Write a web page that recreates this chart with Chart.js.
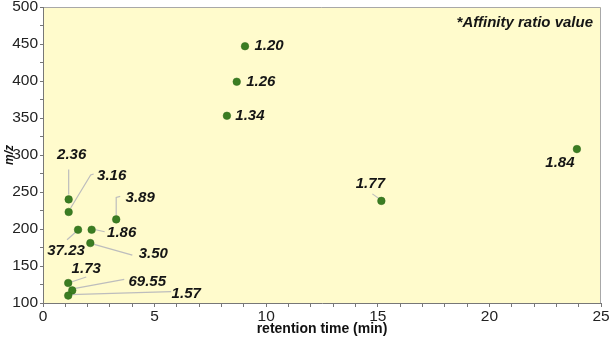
<!DOCTYPE html>
<html>
<head>
<meta charset="utf-8">
<script src="https://cdn.jsdelivr.net/npm/chart.js@4"></script>
<style>
  html, body { margin: 0; padding: 0; background: #fff; }
  canvas { display: block; }
</style>
</head>
<body>
<canvas id="chart" width="611" height="338"></canvas>
<script>
// data
const retentionTime = [1.15, 1.15, 3.28, 1.57, 2.18, 2.12, 1.13, 1.31, 1.13, 9.05, 8.68, 8.24, 15.16, 23.92];
const mzValues = [240, 223, 213, 199, 199, 181, 127, 117, 110, 447, 399, 353, 238, 308];
const affinityRatio = ["2.36", "3.16", "3.89", "37.23", "1.86", "3.50", "1.73", "69.55", "1.57", "1.20", "1.26", "1.34", "1.77", "1.84"];
const xTickLabels = [0, 5, 10, 15, 20, 25];
const yTickLabels = [100, 150, 200, 250, 300, 350, 400, 450, 500];

// label placement (px offsets from the point) and leader lines
const labelPlace = [
  { dx: 3, dy: -45, line: [[0, -5], [0, -30]] },
  { dx: 43, dy: -36, line: [[2, -4], [22, -37], [25, -38]] },
  { dx: 24, dy: -22, line: [[0, -4], [0, -22], [4, -23]] },
  { dx: -12, dy: 21, line: [[-2, 2], [-11, 10]] },
  { dx: 30, dy: 3, line: [[4, 0], [13, 2]] },
  { dx: 63, dy: 11, line: [[3, 1], [42, 12]] },
  { dx: 18, dy: -14, line: [[3, -1], [18, -6]] },
  { dx: 75, dy: -9, line: [[3, -2], [52, -11]] },
  { dx: 118, dy: -2, line: [[2, -1], [103, -4]] },
  { dx: 24, dy: 0 },
  { dx: 24, dy: 0 },
  { dx: 23, dy: 0 },
  { dx: -11, dy: -17, line: [[-2, -2], [-9, -7]] },
  { dx: -17, dy: 14 }
];

const FONT = "'Liberation Sans', Arial, sans-serif";

const plotDecor = {
  id: "plotDecor",
  beforeDraw(chart) {
    const { ctx, chartArea: a } = chart;
    ctx.save();
    ctx.fillStyle = "#fffbcc";
    ctx.fillRect(a.left, a.top, a.right - a.left, a.bottom - a.top);
    ctx.strokeStyle = "#a8a8a8";
    ctx.lineWidth = 1;
    ctx.beginPath();
    ctx.moveTo(a.left, a.top + 0.5);
    ctx.lineTo(a.right - 0.5, a.top + 0.5);
    ctx.lineTo(a.right - 0.5, a.bottom);
    ctx.stroke();
    ctx.restore();
  },
  beforeDatasetsDraw(chart) {
    const { ctx } = chart;
    const meta = chart.getDatasetMeta(0);
    ctx.save();
    ctx.strokeStyle = "#bdbdbd";
    ctx.lineWidth = 1.2;
    meta.data.forEach((pt, i) => {
      const p = labelPlace[i];
      if (!p.line) return;
      ctx.beginPath();
      p.line.forEach(([ox, oy], k) => {
        if (k === 0) ctx.moveTo(pt.x + ox, pt.y + oy);
        else ctx.lineTo(pt.x + ox, pt.y + oy);
      });
      ctx.stroke();
    });
    ctx.restore();
  },
  afterDatasetsDraw(chart) {
    const { ctx, chartArea: a } = chart;
    const meta = chart.getDatasetMeta(0);
    ctx.save();
    ctx.fillStyle = "#151515";
    ctx.font = "italic bold 15px " + FONT;
    ctx.textAlign = "center";
    ctx.textBaseline = "middle";
    meta.data.forEach((pt, i) => {
      const p = labelPlace[i];
      ctx.fillText(affinityRatio[i], pt.x + p.dx, pt.y + p.dy);
    });
    ctx.textAlign = "right";
    ctx.fillText("*Affinity ratio value", a.right - 8, a.top + 16);
    ctx.restore();
  }
};

new Chart(document.getElementById("chart"), {
  type: "scatter",
  data: {
    datasets: [{
      data: retentionTime.map((x, i) => ({ x, y: mzValues[i] })),
      backgroundColor: "#3b7d22",
      borderColor: "#2f6a1a",
      borderWidth: 0.5,
      pointRadius: 3.8,
      pointHoverRadius: 3.8
    }]
  },
  options: {
    responsive: false,
    devicePixelRatio: 1,
    animation: false,
    layout: { padding: { top: 7, right: 10, left: 0, bottom: 0 } },
    plugins: { legend: { display: false }, tooltip: { enabled: false } },
    scales: {
      x: {
        type: "linear",
        min: 0,
        max: 25,
        afterFit: (s) => { s.height = 35; s.paddingRight = 0; s.paddingLeft = 0; },
        afterBuildTicks: (s) => {
          s.ticks = [];
          for (let v = 0; v <= 25; v++) s.ticks.push({ value: v });
        },
        ticks: {
          autoSkip: false,
          maxRotation: 0,
          padding: 0,
          color: "#222",
          font: { family: FONT, size: 15.5 },
          callback: (v) => (xTickLabels.includes(v) ? String(v) : "")
        },
        grid: { drawOnChartArea: false, drawTicks: true, tickLength: 4, color: "#777" },
        border: { display: true, color: "#777", width: 1 },
        title: {
          display: true,
          text: "retention time (min)",
          color: "#111",
          font: { family: FONT, size: 14, weight: "bold" },
          padding: { top: 0, bottom: 0 }
        }
      },
      y: {
        type: "linear",
        min: 100,
        max: 500,
        afterFit: (s) => { s.width = 43; s.paddingTop = 0; s.paddingBottom = 0; },
        afterBuildTicks: (s) => {
          s.ticks = [];
          for (let v = 100; v <= 500; v += 25) s.ticks.push({ value: v });
        },
        ticks: {
          autoSkip: false,
          padding: 2,
          color: "#222",
          font: { family: FONT, size: 15.5 },
          callback: (v) => (yTickLabels.includes(v) ? String(v) : "")
        },
        grid: { drawOnChartArea: false, drawTicks: true, tickLength: 3, color: "#777" },
        border: { display: true, color: "#777", width: 1 },
        title: {
          display: true,
          text: "m/z",
          color: "#111",
          font: { family: FONT, size: 12, weight: "bold", style: "italic" },
          padding: { top: 2, bottom: 0 }
        }
      }
    }
  },
  plugins: [plotDecor]
});
</script>
</body>
</html>
